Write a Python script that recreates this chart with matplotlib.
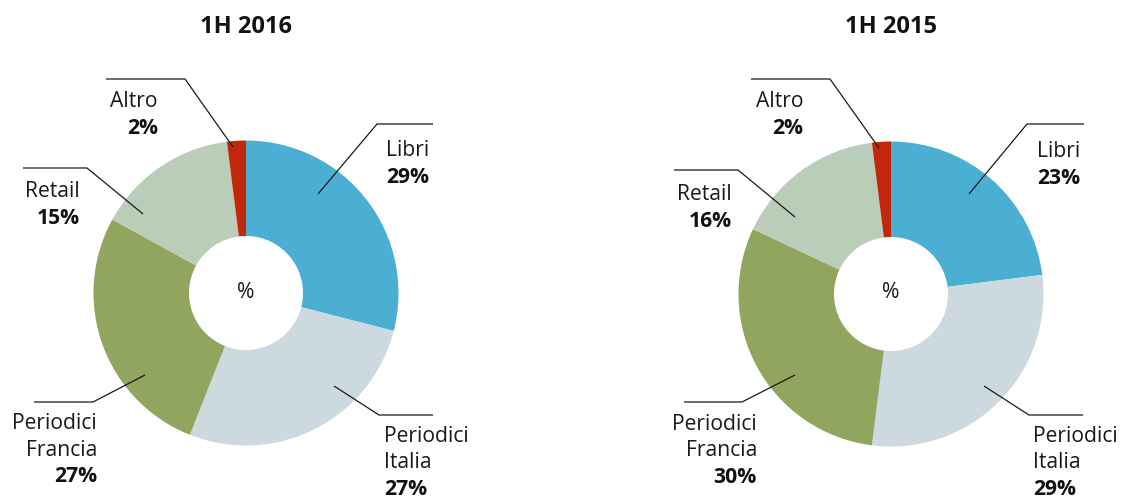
import matplotlib
matplotlib.use('Agg')
import matplotlib.pyplot as plt

plt.rcParams['font.family'] = ['Open Sans', 'DejaVu Sans']

categories = ['Libri', 'Periodici\nItalia', 'Periodici\nFrancia', 'Retail', 'Altro']
values_2016 = [29, 27, 27, 15, 2]
values_2015 = [23, 29, 30, 16, 2]
titles = ['1H 2016', '1H 2015']
colors = ['#4BAFD3', '#CCD9DE', '#91A55E', '#B9CDB8', '#C1280A']

W, H = 1123, 499


def Y(py):
    # pixel row -> data y
    return H - py


# layout per chart: centre, and for each category the leader line
# (anchor, elbow, end) plus text x, alignment and first baseline
layouts = [
    {'center': (246, 293),
     'lines': [[(318, 194), (377, 124), (433, 124)],
               [(334, 386), (379, 415), (433, 415)],
               [(145, 375), (93, 402), (34, 402)],
               [(143, 214), (87, 168), (23, 168)],
               [(233, 147), (185, 79), (106, 79)]],
     'text': [(386, 'left', 156), (384, 'left', 442), (97, 'right', 429),
              (80, 'right', 197), (158, 'right', 107)]},
    {'center': (891, 294),
     'lines': [[(969, 194), (1027, 124), (1084, 124)],
               [(984, 386), (1029, 415), (1083, 415)],
               [(795, 375), (742, 402), (684, 402)],
               [(795, 217), (738, 170), (674, 170)],
               [(879, 148), (830, 79), (751, 79)]],
     'text': [(1037, 'left', 157), (1033, 'left', 442), (757, 'right', 430),
              (732, 'right', 200), (803, 'right', 107)]},
]

fig = plt.figure(figsize=(W / 100, H / 100), dpi=100)
ax = fig.add_axes([0, 0, 1, 1])

R_OUT = 152.5
R_IN = 57
LINE_H = 26.5
FS = 15.2

for vals, title, lay in zip([values_2016, values_2015], titles, layouts):
    cx, cy = lay['center']
    ax.pie(vals, colors=colors, startangle=90, counterclock=False,
           radius=R_OUT, center=(cx, Y(cy)),
           wedgeprops=dict(width=R_OUT - R_IN, linewidth=0))
    ax.text(cx, Y(293), '%', ha='center', va='center', fontsize=FS,
            color='#1a1a1a')
    ax.text(cx, Y(27), title, ha='center', va='center', fontsize=17,
            fontweight='bold', color='#111111')

    for cat, v, pts, (tx, ha, b0) in zip(categories, vals, lay['lines'], lay['text']):
        xs = [p[0] for p in pts]
        ys = [Y(p[1]) for p in pts]
        ax.plot(xs, ys, color='#1a1a1a', lw=0.9, solid_capstyle='butt')
        lines = cat.split('\n')
        for i, ln in enumerate(lines):
            ax.text(tx, Y(b0 + i * LINE_H), ln, ha=ha, va='baseline',
                    fontsize=FS, color='#1a1a1a')
        ax.text(tx, Y(b0 + len(lines) * LINE_H), '{}%'.format(v), ha=ha,
                va='baseline', fontsize=FS, fontweight='bold', color='#111111')

ax.set_xlim(0, W)
ax.set_ylim(0, H)
ax.set_aspect('equal')
ax.axis('off')

fig.savefig('out.png', dpi=100)
